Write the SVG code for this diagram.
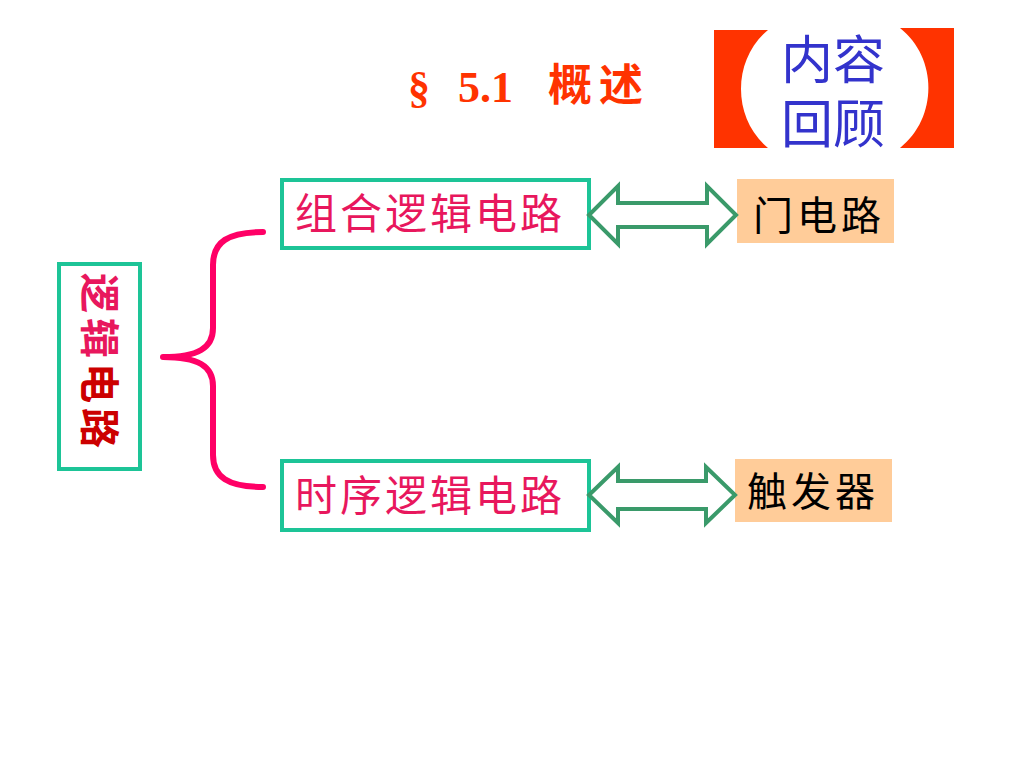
<svg xmlns="http://www.w3.org/2000/svg" width="1024" height="768" viewBox="0 0 1024 768">
<style>
.cjk{font-family:"Noto Sans CJK SC","Noto Sans",sans-serif;}
.box{fill:#ffffff;stroke:#1DC497;stroke-width:4;}
.peach{fill:#FFCC99;stroke:none;}
.arrow{fill:#ffffff;stroke:#3A9A6A;stroke-width:4;stroke-linejoin:miter;}
.pink{fill:#E8175D;}
.blk{fill:#000000;}
.brace{fill:none;stroke:#FF0066;stroke-width:6;stroke-linecap:round;stroke-linejoin:round;}
</style>
<rect width="1024" height="768" fill="#ffffff"/>
<g id="title">
<text y="102" fill="#FF3300" font-family="Liberation Serif, serif" font-weight="bold" font-size="44"><tspan x="408">§</tspan><tspan x="458">5.1</tspan></text>
<text x="548" y="101" fill="#FF3300" class="cjk" font-weight="bold" font-size="44" letter-spacing="7">概述</text>
</g>
<g id="review">
<path d="M714,30 L768,30 C732,60 732,118 768,148 L714,148 Z" fill="#FF3300"/>
<path d="M900,28 L954,28 L954,148 L900,148 C938,118 938,58 900,28 Z" fill="#FF3300"/>
<text text-anchor="middle" fill="#3333CC" class="cjk" font-size="52"><tspan x="833" y="79">内容</tspan><tspan x="833" y="143">回顾</tspan></text>
</g>
<g id="logic">
<rect class="box" x="59" y="264" width="81" height="205"/>
<text class="cjk" font-size="40" font-weight="bold" transform="translate(100,363) rotate(90)" x="0" y="15" text-anchor="middle" letter-spacing="5"><tspan fill="#E8175D">逻辑</tspan><tspan fill="#CC0000">电路</tspan></text>
</g>
<g id="brace">
<path class="brace" d="M263,232 C228,232 213,242 213,265 L213,328 C213,348 198,357 163,357 C198,357 213,366 213,386 L213,455 C213,477 228,487 263,487"/>
</g>
<g id="comb">
<rect class="box" x="282" y="180" width="307" height="68"/>
<text class="cjk pink" x="430" y="229" text-anchor="middle" font-size="42" letter-spacing="3">组合逻辑电路</text>
</g>
<g id="gate">
<rect class="peach" x="737" y="179" width="157" height="64"/>
<text class="cjk blk" x="819" y="230" text-anchor="middle" font-size="40" letter-spacing="4">门电路</text>
</g>
<g id="seq">
<rect class="box" x="282" y="461" width="307" height="69"/>
<text class="cjk pink" x="430" y="511" text-anchor="middle" font-size="42" letter-spacing="3">时序逻辑电路</text>
</g>
<g id="flipflop">
<rect class="peach" x="735" y="459" width="157" height="63"/>
<text class="cjk blk" x="813" y="506" text-anchor="middle" font-size="40" letter-spacing="4">触发器</text>
</g>
<g id="connectors">
<polygon class="arrow" points="589,215 618,186 618,203 707,203 707,186 736,215 707,244 707,227 618,227 618,244"/>
<polygon class="arrow" points="589,495 618,467 618,481 706,481 706,467 735,495 706,523 706,509 618,509 618,523"/>
</g>
</svg>
